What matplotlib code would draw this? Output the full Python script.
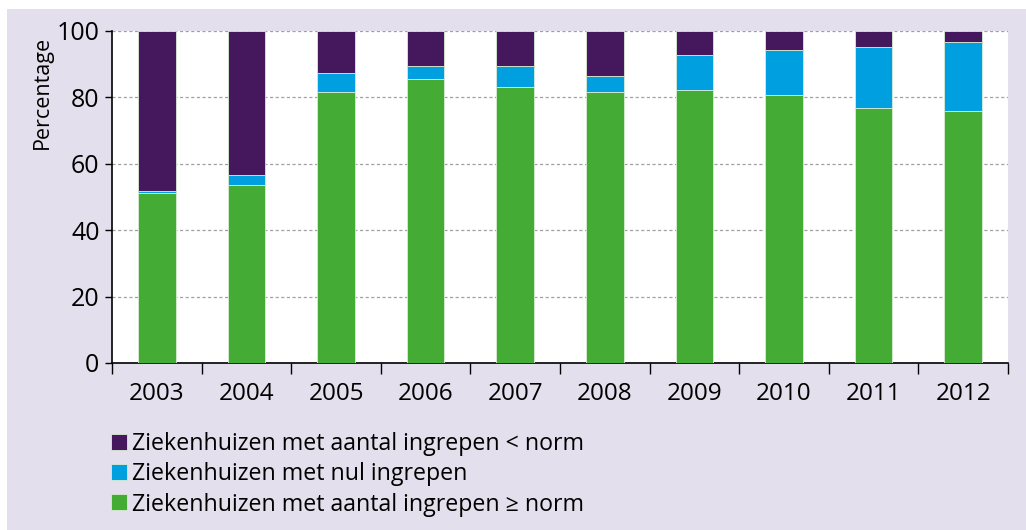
import matplotlib.pyplot as plt
from matplotlib.patches import Rectangle
import numpy as np

plt.rcParams['font.family'] = ['Open Sans', 'DejaVu Sans']

years = ["2003", "2004", "2005", "2006", "2007", "2008", "2009", "2010", "2011", "2012"]
boven_norm = [51.1, 53.5, 81.7, 85.5, 83.0, 81.7, 82.3, 80.7, 76.8, 75.9]
nul_ingrepen = [0.8, 3.1, 5.5, 4.1, 6.5, 4.7, 10.4, 13.6, 18.4, 20.8]
onder_norm = [48.1, 43.4, 12.8, 10.4, 10.5, 13.6, 7.3, 5.7, 4.8, 3.3]

labels = ["Ziekenhuizen met aantal ingrepen < norm",
          "Ziekenhuizen met nul ingrepen",
          "Ziekenhuizen met aantal ingrepen \u2265 norm"]
colors = ["#45175d", "#009fe0", "#44ac34"]
bg = "#e4dfec"

fig = plt.figure(figsize=(10.26, 5.30), dpi=100)
fig.patch.set_facecolor("white")
# lavender panel behind the whole chart
fig.add_artist(Rectangle((7 / 1026, 0), 1, 1 - 9 / 530, transform=fig.transFigure,
                         facecolor=bg, edgecolor="none", zorder=-10))

ax = fig.add_axes([112 / 1026, 1 - 363 / 530, 896 / 1026, 332 / 530])
ax.set_facecolor("white")

x = np.arange(len(years))
w = 0.42
edge = dict(edgecolor="#d8ecd4", linewidth=0.6)
b1 = ax.bar(x, boven_norm, w, color=colors[2], zorder=3, **edge)
b2 = ax.bar(x, nul_ingrepen, w, bottom=boven_norm, color=colors[1], zorder=3, **edge)
bottom2 = np.array(boven_norm) + np.array(nul_ingrepen)
b3 = ax.bar(x, onder_norm, w, bottom=bottom2, color=colors[0], zorder=3, **edge)

ax.set_xlim(-0.5, len(years) - 0.5)
ax.set_ylim(0, 100)
ax.set_yticks([0, 20, 40, 60, 80, 100])
ax.yaxis.grid(True, linestyle=(0, (2.5, 2)), color="#a0a0a0", linewidth=0.9, zorder=0)

# year labels in the middle, tick marks between the years
ax.set_xticks(x)
ax.set_xticklabels(years)
ax.set_xticks(np.arange(-0.5, len(years)), minor=True)
ax.tick_params(axis="x", which="major", length=0, pad=14, labelsize=17.5)
ax.tick_params(axis="x", which="minor", length=8, width=1)
ax.tick_params(axis="y", length=5, width=1, pad=4, labelsize=18)

for s in ["top", "right"]:
    ax.spines[s].set_visible(False)
ax.spines["left"].set_linewidth(1.2)
ax.spines["bottom"].set_linewidth(1.2)

ax.set_ylabel("Percentage", fontsize=15.5)
ax.yaxis.set_label_coords(-0.066, 0.815)

fig.legend([b3, b2, b1], labels, loc="upper left", bbox_to_anchor=(111 / 1026, 1 - 432 / 530),
           frameon=False, fontsize=16.7, handlelength=0.68, handleheight=0.68,
           handletextpad=0.22, labelspacing=0.27, borderpad=0, borderaxespad=0)

fig.savefig("out.png", dpi=100, facecolor=fig.get_facecolor())
